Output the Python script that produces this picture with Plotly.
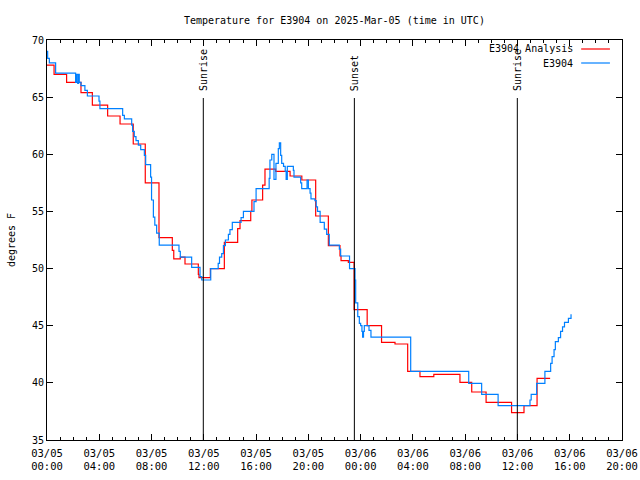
import pandas as pd
import plotly.graph_objects as go

BASE = pd.Timestamp("2025-03-05 00:00")

# Analysis series (hours since 03/05 00:00 UTC, degrees F) - step changes
ana_hours = [0.0, 0.54, 1.5, 2.6, 3.47, 4.64, 5.59, 6.6, 7.52, 8.57, 9.59, 9.7, 10.2,
             10.56, 11.58, 11.63, 12.5, 13.57, 14.59, 14.77, 15.59, 15.68, 16.5, 16.68,
             17.5, 18.6, 19.5, 20.56, 21.53, 22.42, 22.5, 23.06, 23.5, 24.5, 25.6, 26.63,
             27.6, 28.54, 29.6, 31.6, 32.5, 33.6, 35.55, 36.5, 37.5, 38.5]
ana_temp = [67.8, 67.0, 66.3, 65.4, 64.3, 63.35, 62.65, 60.9, 57.5, 52.7, 51.6, 50.85, 51.0,
            50.4, 49.5, 49.2, 50.0, 52.3, 53.5, 54.2, 55.0, 56.0, 57.3, 58.7,
            58.5, 58.1, 57.75, 54.6, 52.0, 51.1, 50.7, 50.55, 46.4, 45.0, 43.55, 43.4,
            41.0, 40.55, 40.75, 40.05, 39.2, 38.3, 37.4, 38.0, 40.4, 40.4]

# Observed series E3904
obs_hours = [0.0, 0.05, 0.18, 0.66, 2.19, 2.25, 2.35, 2.42, 2.47, 2.6, 2.9, 3.09, 3.98, 4.05,
             5.79, 5.92, 6.48, 6.55, 6.68, 6.81, 6.99, 7.17, 7.45, 7.55, 7.93, 8.0, 8.14,
             8.25, 8.39, 8.59, 10.1, 10.2, 11.07, 11.71, 11.84, 12.53, 13.1, 13.2, 13.37,
             13.5, 13.65, 13.88, 14.0, 14.18, 14.85, 15.03, 15.84, 16.0, 17.0, 17.06, 17.2,
             17.37, 17.52, 17.7, 17.78, 17.88, 17.96, 18.1, 18.23, 18.3, 18.39, 18.85, 18.9,
             19.41, 19.49, 19.9, 20.0, 20.13, 20.2, 20.5, 20.6, 20.7, 20.9, 21.22, 21.4,
             21.6, 22.37, 22.47, 23.15, 23.57, 23.62, 23.78, 23.9, 24.0, 24.1, 24.15, 24.22,
             24.28, 24.64, 24.79, 27.83, 32.27, 33.26, 34.52, 36.96, 37.05, 37.47, 38.1,
             38.54, 38.65, 38.8, 38.9, 39.13, 39.3, 39.45, 39.6, 39.9, 40.1]
obs_temp = [69.0, 68.4, 68.0, 67.1, 66.3, 67.0, 66.2, 67.0, 66.3, 66.0, 65.6, 65.1, 64.65, 64.0,
            63.4, 63.1, 62.55, 62.0, 61.55, 61.2, 60.8, 60.4, 59.9, 59.1, 58.0, 56.0, 54.5,
            53.8, 53.1, 52.06, 51.5, 51.0, 50.1, 49.3, 49.0, 50.0, 50.45, 51.0, 51.3,
            52.0, 52.5, 53.0, 53.4, 54.05, 54.45, 55.0, 55.85, 57.0, 57.9, 59.5, 60.0,
            57.8, 59.2, 60.5, 61.0, 59.9, 59.2, 58.95, 58.5, 57.8, 58.95, 58.6, 58.0,
            57.5, 57.0, 57.75, 57.0, 56.6, 56.1, 55.95, 55.4, 55.0, 54.05, 53.45, 53.0,
            52.06, 51.7, 51.1, 50.0, 49.0, 47.0, 45.8, 45.2, 45.0, 44.5, 44.0, 44.5,
            45.0, 44.6, 44.0, 41.0, 39.95, 39.0, 38.0, 38.5, 39.0, 39.95, 41.0,
            41.7, 42.3, 42.9, 43.6, 43.95, 44.5, 44.9, 45.3, 45.65, 46.0]

event_hours = [11.96, 23.52, 35.99]
event_labels = ["Sunrise", "Sunset", "Sunrise"]

tick_hours = list(range(0, 45, 4))
tick_labels = ["03/05<br>00:00", "03/05<br>04:00", "03/05<br>08:00", "03/05<br>12:00",
               "03/05<br>16:00", "03/05<br>20:00", "03/06<br>00:00", "03/06<br>04:00",
               "03/06<br>08:00", "03/06<br>12:00", "03/06<br>16:00", "03/06<br>20:00"]

series_names = ["E3904 Analysis", "E3904"]
series_colors = ["#ff0000", "#0080ff"]


def to_time(hours):
    return [BASE + pd.Timedelta(hours=h) for h in hours]


FONT = "DejaVu Sans Mono"
fig = go.Figure()
fig.add_trace(go.Scatter(x=to_time(ana_hours), y=ana_temp, mode="lines",
                         line=dict(color=series_colors[0], width=1.2, shape="hv"),
                         name=series_names[0], showlegend=False))
fig.add_trace(go.Scatter(x=to_time(obs_hours), y=obs_temp, mode="lines",
                         line=dict(color=series_colors[1], width=1.2, shape="hv"),
                         name=series_names[1], showlegend=False))

for h, lab in zip(event_hours, event_labels):
    t = to_time([h])[0]
    fig.add_shape(type="line", xref="x", yref="paper", x0=t, x1=t, y0=0, y1=0.855,
                  line=dict(color="black", width=1))
    fig.add_annotation(x=t, xref="x", y=0.868, yref="paper", text=lab, textangle=-90,
                       showarrow=False, xanchor="center", yanchor="bottom",
                       font=dict(family=FONT, size=10, color="black"))

# legend (gnuplot style: text left of sample)
for i, (nm, col) in enumerate(zip(series_names, series_colors)):
    yy = 0.9775 - i * 0.035
    fig.add_annotation(x=0.918, y=yy, xref="paper", yref="paper", text=nm, showarrow=False,
                       xanchor="right", yanchor="middle",
                       font=dict(family=FONT, size=10, color="black"))
    fig.add_shape(type="line", xref="paper", yref="paper", x0=0.929, x1=0.979, y0=yy, y1=yy,
                  line=dict(color=col, width=1.2))

fig.update_layout(
    width=640, height=480,
    margin=dict(l=47, r=18, t=40, b=40, autoexpand=False),
    paper_bgcolor="white", plot_bgcolor="white",
    font=dict(family=FONT, size=10, color="black"),
    title=dict(text="Temperature for E3904 on 2025-Mar-05 (time in UTC)",
               x=0.5225, xref="container", xanchor="center", y=1 - 20 / 480,
               yref="container", yanchor="middle",
               font=dict(family=FONT, size=10, color="black")),
    showlegend=False,
)
fig.update_xaxes(
    type="date", range=[BASE, BASE + pd.Timedelta(hours=44)],
    tickvals=to_time(tick_hours), ticktext=tick_labels, automargin=False,
    ticks="inside", ticklen=6, tickcolor="black", tickwidth=1, ticklabelstandoff=3,
    minor=dict(dtick=3600000, ticks="inside", ticklen=3, tickcolor="black", showgrid=False),
    showline=True, linecolor="black", linewidth=1, mirror="ticks",
    showgrid=False, zeroline=False, tickfont=dict(family=FONT, size=10.5),
)
fig.update_yaxes(
    range=[35, 70], tickvals=[35, 40, 45, 50, 55, 60, 65, 70], automargin=False,
    ticks="inside", ticklen=6, tickcolor="black", tickwidth=1,
    showline=True, linecolor="black", linewidth=1, mirror="ticks",
    showgrid=False, zeroline=False, tickfont=dict(family=FONT, size=10),
    title=dict(text="degrees F", standoff=14, font=dict(family=FONT, size=10)),
)

fig.write_html("out.html")
